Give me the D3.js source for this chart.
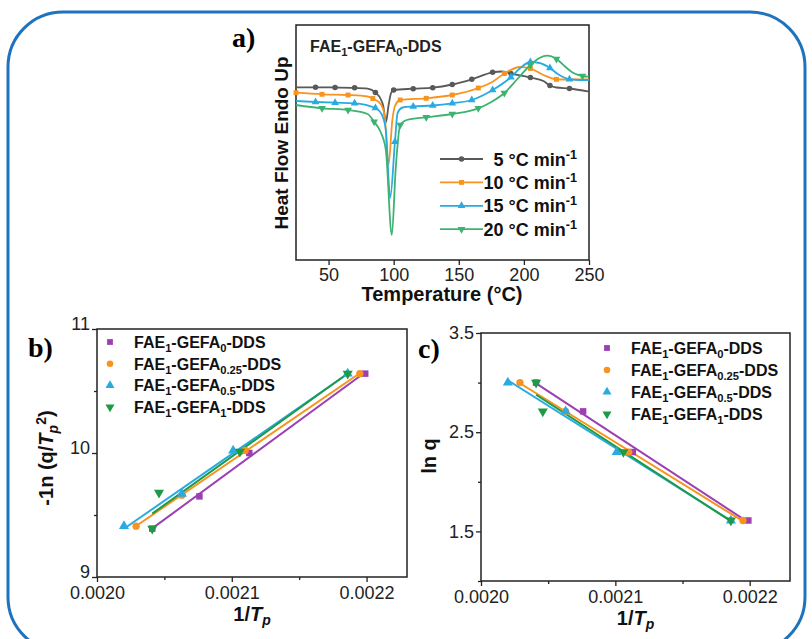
<!DOCTYPE html>
<html>
<head>
<meta charset="utf-8">
<script src="https://cdn.jsdelivr.net/npm/d3@7"></script>
<style>
  body { margin: 0; background: #fff; }
  svg { display: block; font-family: "Liberation Sans", Arial, sans-serif; }
  .tick text { fill: #222; }
  .tick line { stroke: #222; stroke-width: 1.3; }
</style>
</head>
<body>
<svg id="chart" width="812" height="639"></svg>
<script>
// ---- panel a: DSC curves (temperature in °C, heat flow in arbitrary units)
var rates = ["5", "10", "15", "20"];
var dscGray = [[25,17.27],[40,17.27],[55,17.25],[70,17.22],[80,17.14],[86,16.75],[90,16.10],[92,15.40],[94,13.75],[96,15.40],[98,16.70],[100,17.00],[115,17.13],[130,17.23],[145,17.55],[160,18.07],[176,18.77],[183,18.85],[190,18.65],[205,18.25],[215,17.90],[220,17.45],[225,17.25],[235,17.15],[250,16.83]];
var dscOrange = [[25,16.73],[45,16.57],[65,16.50],[80,16.35],[84,16.15],[90,15.60],[93,14.50],[96,9.50],[99,14.00],[101,15.40],[105,16.00],[125,16.17],[145,16.50],[165,17.20],[176,17.83],[185,18.65],[197,19.30],[205,19.15],[215,18.50],[225,18.07],[235,18.05],[250,18.05]];
var dscBlue = [[25,15.90],[40,15.80],[55,15.73],[70,15.67],[86,15.20],[91,14.50],[94,13.00],[97.3,6.20],[101,11.83],[103,14.70],[107,15.25],[115,15.35],[130,15.45],[145,15.67],[160,16.00],[176,17.00],[190,18.27],[197,19.17],[205,19.80],[212,19.70],[220,19.20],[226,18.60],[235,18.08],[242,18.00],[250,18.00]];
var dscGreen = [[25,15.50],[45,15.17],[65,15.00],[80,14.60],[85,13.83],[90,12.80],[94,11.00],[98.6,2.50],[101.5,9.00],[105,13.50],[110,14.00],[125,14.27],[145,14.60],[165,15.17],[175,15.80],[185,16.70],[195,18.10],[205,19.50],[212,20.20],[218,20.43],[225,20.10],[232,19.30],[238,18.70],[245,18.40],[250,18.33]];
var markGray = [40,55,70,86,100,115,130,145,160,176,190,205,220,235];
var markOrange = [25,45,65,84,105,125,145,165,185,205,225];
var markBlue = [40,55,70,86,101,115,130,145,160,176,190,205,220,235];
var markGreen = [45,65,85,105,125,145,165,185,205,225,245];
var tempTicks = [50, 100, 150, 200, 250];

// ---- panels b and c: Kissinger / Ozawa points
var samples = ["0", "0.25", "0.5", "1"];
var invTp0   = [0.002041, 0.002076, 0.002113, 0.002199];
var invTp025 = [0.002029, 0.002063, 0.002110, 0.002195];
var invTp05  = [0.002020, 0.002063, 0.002101, 0.002186];
var invTp1   = [0.002041, 0.002046, 0.002106, 0.002186];
var kis0   = [9.39, 9.65, 10.00, 10.64];
var kis025 = [9.41, 9.66, 10.02, 10.64];
var kis05  = [9.41, 9.67, 10.02, 10.64];
var kis1   = [9.39, 9.68, 10.01, 10.64];
var lnq = [3.00, 2.71, 2.30, 1.61];
var xTicks = [0.0020, 0.0021, 0.0022];
var xMinor = [0.00205, 0.00215];
var kisTicks = [9, 10, 11];
var kisMinor = [9.5, 10.5];
var lnqTicks = [1.5, 2.5, 3.5];
var lnqMinor = [1.0, 2.0, 3.0];

var svg = d3.select("#chart");

// blue outer frame
svg.append("rect")
  .attr("x", 8).attr("y", 12).attr("width", 797).attr("height", 640)
  .attr("rx", 55).attr("ry", 55)
  .attr("fill", "none").attr("stroke", "#1e73be").attr("stroke-width", 3);

function label(g, x, y, txt) {
  g.append("text").attr("x", x).attr("y", y)
    .attr("font-family", "Liberation Serif, Times New Roman, serif")
    .attr("font-weight", "bold").attr("font-size", 28).text(txt);
}

// text like FAE1-GEFA0-DDS with subscripts
function sampleName(t, sub) {
  t.append("tspan").text("FAE");
  t.append("tspan").attr("dy", 4).attr("font-size", "70%").text("1");
  t.append("tspan").attr("dy", -4).text("-GEFA");
  t.append("tspan").attr("dy", 4).attr("font-size", "70%").text(sub);
  t.append("tspan").attr("dy", -4).text("-DDS");
}

// ================= panel a =================
(function () {
  var L = 296, R = 589, T = 25, B = 260;
  var x = d3.scaleLinear().domain([25, 250]).range([L, R]);
  var y = d3.scaleLinear().domain([0, 23.5]).range([B, T]);
  var g = svg.append("g");

  g.append("g").attr("transform", "translate(0," + B + ")")
    .call(d3.axisBottom(x).tickValues(tempTicks).tickSize(5).tickPadding(3).tickSizeOuter(0))
    .call(function (a) { a.select(".domain").remove(); a.selectAll("text").attr("font-size", 18); });

  g.append("rect").attr("x", L).attr("y", T).attr("width", R - L).attr("height", B - T)
    .attr("fill", "none").attr("stroke", "#222").attr("stroke-width", 1.5);

  var series = [
    { data: dscGray, marks: markGray, color: "#595959", sym: d3.symbolCircle, size: 24 },
    { data: dscOrange, marks: markOrange, color: "#f7931e", sym: d3.symbolSquare, size: 24 },
    { data: dscBlue, marks: markBlue, color: "#29abe2", sym: d3.symbolTriangle, size: 26 },
    { data: dscGreen, marks: markGreen, color: "#3cb371", sym: d3.symbolTriangle, size: 26, flip: true }
  ];
  var line = d3.line().x(function (d) { return x(d[0]); }).y(function (d) { return y(d[1]); })
    .curve(d3.curveMonotoneX);

  series.forEach(function (s) {
    g.append("path").datum(s.data).attr("d", line)
      .attr("fill", "none").attr("stroke", s.color).attr("stroke-width", 1.8);
    var pts = s.data.filter(function (d) { return s.marks.indexOf(d[0]) >= 0; });
    g.selectAll(null).data(pts).enter().append("path")
      .attr("d", d3.symbol().type(s.sym).size(s.size))
      .attr("transform", function (d) {
        return "translate(" + x(d[0]) + "," + y(d[1]) + ")" + (s.flip ? " rotate(180)" : "");
      })
      .attr("fill", s.color);
  });

  // legend
  series.forEach(function (s, i) {
    var ly = 159 + i * 23.4;
    g.append("line").attr("x1", 440).attr("x2", 483).attr("y1", ly).attr("y2", ly)
      .attr("stroke", s.color).attr("stroke-width", 1.8);
    g.append("path").attr("d", d3.symbol().type(s.sym).size(s.size))
      .attr("transform", "translate(461.5," + ly + ")" + (s.flip ? " rotate(180)" : ""))
      .attr("fill", s.color);
    var t = g.append("text").attr("x", 577).attr("y", ly + 6.5).attr("text-anchor", "end")
      .attr("font-weight", "bold").attr("font-size", 18).attr("fill", "#111");
    t.append("tspan").text(rates[i] + " °C min");
    t.append("tspan").attr("dy", -7).attr("font-size", "70%").text("-1");
  });

  var title = g.append("text").attr("x", 310).attr("y", 52)
    .attr("font-weight", "bold").attr("font-size", 16).attr("fill", "#222");
  sampleName(title, "0");

  g.append("text").attr("transform", "translate(288,143) rotate(-90)")
    .attr("text-anchor", "middle").attr("font-weight", "bold").attr("font-size", 19)
    .attr("fill", "#111").text("Heat Flow Endo Up");
  g.append("text").attr("x", 442).attr("y", 301).attr("text-anchor", "middle")
    .attr("font-weight", "bold").attr("font-size", 20).attr("fill", "#111").text("Temperature (°C)");
  label(g, 232, 47, "a)");
})();

// ================= panels b and c =================
var pointSeries = [
  { name: samples[0], x: invTp0, kis: kis0, color: "#9b3fb3", sym: d3.symbolSquare, size: 42 },
  { name: samples[1], x: invTp025, kis: kis025, color: "#f7931e", sym: d3.symbolCircle, size: 42 },
  { name: samples[2], x: invTp05, kis: kis05, color: "#29abe2", sym: d3.symbolTriangle, size: 44 },
  { name: samples[3], x: invTp1, kis: kis1, color: "#1e9a46", sym: d3.symbolTriangle, size: 44, flip: true }
];

function fit(xs, ys) {
  var mx = d3.mean(xs), my = d3.mean(ys);
  var sxy = d3.sum(xs, function (v, i) { return (v - mx) * (ys[i] - my); });
  var sxx = d3.sum(xs, function (v) { return (v - mx) * (v - mx); });
  var k = sxy / sxx;
  return function (v) { return my + k * (v - mx); };
}

function scatterPanel(opt) {
  var L = opt.L, R = opt.R, T = opt.T, B = opt.B;
  var x = d3.scaleLinear().domain([0.0020, 0.00223]).range([L, R]);
  var y = d3.scaleLinear().domain(opt.yDomain).range([B, T]);
  var g = svg.append("g");

  g.append("g").attr("transform", "translate(0," + B + ")")
    .call(d3.axisBottom(x).tickValues(xTicks).tickFormat(d3.format(".4f")).tickSize(5).tickPadding(4).tickSizeOuter(0))
    .call(function (a) { a.select(".domain").remove(); a.selectAll("text").attr("font-size", 18); });
  g.append("g").attr("transform", "translate(0," + B + ")")
    .call(d3.axisBottom(x).tickValues(xMinor).tickFormat("").tickSize(3).tickSizeOuter(0))
    .call(function (a) { a.select(".domain").remove(); });
  g.append("g").attr("transform", "translate(" + L + ",0)")
    .call(d3.axisLeft(y).tickValues(opt.yTicks).tickFormat(opt.yFormat).tickSize(5).tickPadding(2).tickSizeOuter(0))
    .call(function (a) {
      a.select(".domain").remove();
      a.selectAll("text").attr("font-size", 18).attr("dy", opt.yDy || "0.32em");
    });
  g.append("g").attr("transform", "translate(" + L + ",0)")
    .call(d3.axisLeft(y).tickValues(opt.yMinor).tickFormat("").tickSize(3).tickSizeOuter(0))
    .call(function (a) { a.select(".domain").remove(); });

  g.append("rect").attr("x", L).attr("y", T).attr("width", R - L).attr("height", B - T)
    .attr("fill", "none").attr("stroke", "#222").attr("stroke-width", 1.5);

  pointSeries.forEach(function (s) {
    var ys = opt.yOf(s);
    var f = fit(s.x, ys);
    var x0 = d3.min(s.x), x1 = d3.max(s.x);
    g.append("line").attr("x1", x(x0)).attr("y1", y(f(x0))).attr("x2", x(x1)).attr("y2", y(f(x1)))
      .attr("stroke", s.color).attr("stroke-width", 2);
  });
  pointSeries.forEach(function (s) {
    var ys = opt.yOf(s);
    g.selectAll(null).data(s.x).enter().append("path")
      .attr("d", d3.symbol().type(s.sym).size(s.size))
      .attr("transform", function (d, i) {
        return "translate(" + x(d) + "," + y(ys[i]) + ")" + (s.flip ? " rotate(180)" : "");
      })
      .attr("fill", s.color);
  });

  // legend
  pointSeries.forEach(function (s, i) {
    var ly = opt.legY + i * opt.legStep;
    g.append("path").attr("d", d3.symbol().type(s.sym).size(s.size * 0.8))
      .attr("transform", "translate(" + opt.legX + "," + ly + ")" + (s.flip ? " rotate(180)" : ""))
      .attr("fill", s.color);
    var t = g.append("text").attr("x", opt.legX + 24).attr("y", ly + 6)
      .attr("font-weight", "bold").attr("font-size", 16).attr("fill", "#111");
    sampleName(t, s.name);
  });

  // axis titles
  var xt = g.append("text").attr("x", (L + R) / 2).attr("y", B + 44).attr("text-anchor", "middle")
    .attr("font-weight", "bold").attr("font-size", 20).attr("fill", "#111");
  xt.append("tspan").text("1/");
  xt.append("tspan").attr("font-style", "italic").text("T");
  xt.append("tspan").attr("dy", 4).attr("font-size", "70%").attr("font-style", "italic").text("p");

  var yt = g.append("text").attr("transform", "translate(" + opt.yTitleX + "," + opt.yTitleY + ") rotate(-90)")
    .attr("text-anchor", "middle").attr("font-weight", "bold").attr("font-size", 20).attr("fill", "#111");
  opt.yTitle(yt);

  label(g, opt.labX, opt.labY, opt.lab);
}

scatterPanel({
  L: 97, R: 407, T: 329, B: 577,
  yDomain: [9, 11], yTicks: kisTicks, yMinor: kisMinor, yFormat: d3.format("d"),
  yDy: "0.05em",
  yOf: function (s) { return s.kis; },
  legX: 110, legY: 342, legStep: 21.7,
  yTitleX: 53, yTitleY: 458,
  yTitle: function (t) {
    t.append("tspan").text("-1n (q/");
    t.append("tspan").attr("font-style", "italic").text("T");
    t.append("tspan").attr("dy", 5).attr("font-size", "70%").attr("font-style", "italic").text("p");
    t.append("tspan").attr("dy", -12).attr("font-size", "70%").text("2");
    t.append("tspan").attr("dy", 7).text(")");
  },
  labX: 28, labY: 357, lab: "b)"
});

scatterPanel({
  L: 481, R: 790, T: 333, B: 581,
  yDomain: [1.0, 3.5], yTicks: lnqTicks, yMinor: lnqMinor, yFormat: d3.format(".1f"),
  yOf: function () { return lnq; },
  legX: 607, legY: 348, legStep: 22,
  yTitleX: 436, yTitleY: 456,
  yTitle: function (t) { t.text("ln q"); },
  labX: 418, labY: 358, lab: "c)"
});
</script>
</body>
</html>
